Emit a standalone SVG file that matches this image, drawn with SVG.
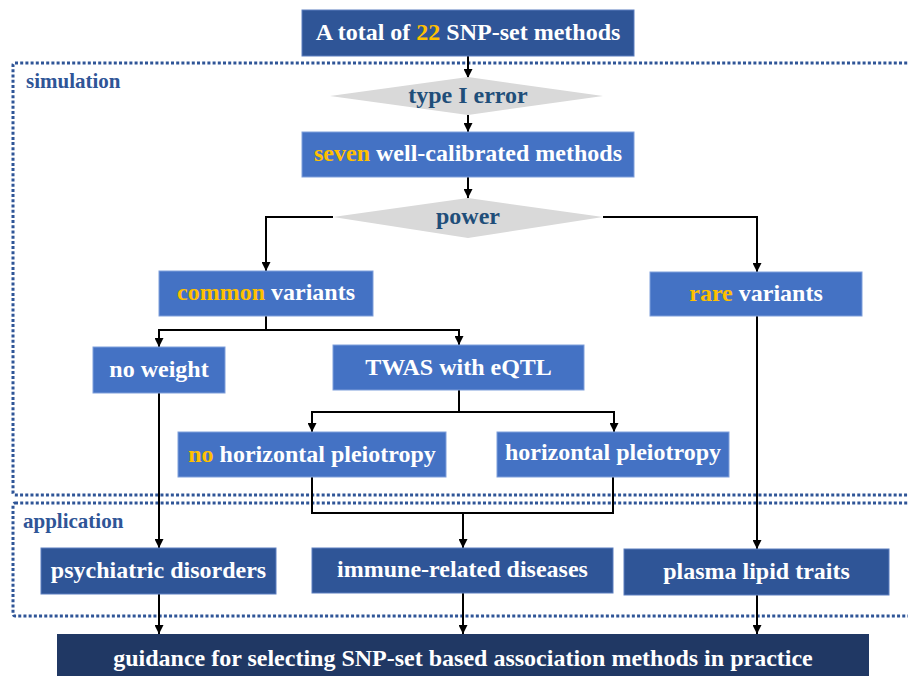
<svg xmlns="http://www.w3.org/2000/svg" width="908" height="676" viewBox="0 0 908 676">
  <defs>
    <marker id="arr" viewBox="0 0 10 10" refX="10" refY="5" markerWidth="9" markerHeight="9" markerUnits="userSpaceOnUse" orient="auto">
      <path d="M0,0 L10,5 L0,10 z" fill="#000"/>
    </marker>
    <style>
      .t{font-family:"Liberation Serif","Times New Roman",serif;font-weight:bold;font-size:24px;text-anchor:middle;fill:#fff}
      .y{fill:#FFC000}
      .dt{fill:#1F4E79}
      .lab{font-family:"Liberation Serif","Times New Roman",serif;font-weight:bold;font-size:21px;fill:#2F5597}
      .zone{fill:none;stroke:#2F5597;stroke-width:3;stroke-dasharray:3 2.2}
      .b1{fill:#4472C4;stroke:#7F9FDB;stroke-width:1}
      .b2{fill:#2F5597;stroke:#5C7FBF;stroke-width:1}
      .b3{fill:#203864}
      .dia{fill:#D9D9D9}
      .c{fill:none;stroke:#000;stroke-width:2}
      .ca{fill:none;stroke:#000;stroke-width:2;marker-end:url(#arr)}
    </style>
  </defs>
  <rect width="908" height="676" fill="#fff"/>

  <g id="zones">
    <rect class="zone" x="13" y="63" width="930" height="432" rx="2"/>
    <text class="lab" x="26" y="88">simulation</text>
    <rect class="zone" x="13" y="503" width="930" height="113" rx="2"/>
    <text class="lab" x="23" y="528">application</text>
  </g>

  <g id="connectors">
    <path class="ca" d="M468,56 V78"/>
    <path class="ca" d="M468,115 V132"/>
    <path class="ca" d="M468,177 V198"/>
    <path class="ca" d="M333,217 H266 V271"/>
    <path class="ca" d="M603,217 H757 V272"/>
    <path class="ca" d="M266,316 V330 H159 V347"/>
    <path class="ca" d="M266,330 H459 V345"/>
    <path class="ca" d="M459,390 V412 H312 V432"/>
    <path class="ca" d="M459,412 H614 V432"/>
    <path class="c" d="M312,477 V513 H613 V477"/>
    <path class="ca" d="M463,513 V548"/>
    <path class="ca" d="M159,393 V548"/>
    <path class="ca" d="M757,316 V549"/>
    <path class="ca" d="M159,594 V634"/>
    <path class="ca" d="M463,593 V634"/>
    <path class="ca" d="M757,595 V634"/>
  </g>

  <g id="n-total">
    <rect class="b2" x="302" y="10" width="332" height="46"/>
    <text class="t" x="468" y="40">A total of <tspan class="y">22</tspan> SNP-set methods</text>
  </g>
  <g id="n-type1">
    <polygon class="dia" points="330,96 468,77 603,96 468,115"/>
    <text class="t dt" x="468" y="103">type I error</text>
  </g>
  <g id="n-seven">
    <rect class="b1" x="302" y="132" width="332" height="45"/>
    <text class="t" x="468" y="161"><tspan class="y">seven</tspan> well-calibrated methods</text>
  </g>
  <g id="n-power">
    <polygon class="dia" points="333,217 468,198 603,217 468,238"/>
    <text class="t dt" x="468" y="224">power</text>
  </g>
  <g id="n-common">
    <rect class="b1" x="159" y="271" width="214" height="45"/>
    <text class="t" x="266" y="300"><tspan class="y">common</tspan> variants</text>
  </g>
  <g id="n-rare">
    <rect class="b1" x="650" y="272" width="212" height="44"/>
    <text class="t" x="756" y="301"><tspan class="y">rare</tspan> variants</text>
  </g>
  <g id="n-noweight">
    <rect class="b1" x="93" y="347" width="132" height="46"/>
    <text class="t" x="159" y="377">no weight</text>
  </g>
  <g id="n-twas">
    <rect class="b1" x="333" y="345" width="251" height="45"/>
    <text class="t" x="458.5" y="375">TWAS with eQTL</text>
  </g>
  <g id="n-nohp">
    <rect class="b1" x="178" y="432" width="268" height="45"/>
    <text class="t" x="312" y="462"><tspan class="y">no</tspan> horizontal pleiotropy</text>
  </g>
  <g id="n-hp">
    <rect class="b1" x="497" y="432" width="232" height="45"/>
    <text class="t" x="613" y="460">horizontal pleiotropy</text>
  </g>
  <g id="n-psych">
    <rect class="b2" x="41" y="548" width="235" height="46"/>
    <text class="t" x="158.5" y="578">psychiatric disorders</text>
  </g>
  <g id="n-immune">
    <rect class="b2" x="312" y="548" width="301" height="45"/>
    <text class="t" x="462.5" y="577">immune-related diseases</text>
  </g>
  <g id="n-plasma">
    <rect class="b2" x="624" y="549" width="265" height="46"/>
    <text class="t" x="756.5" y="579">plasma lipid traits</text>
  </g>
  <g id="n-guidance">
    <rect class="b3" x="57" y="634" width="812" height="50"/>
    <text class="t" x="463" y="666">guidance for selecting SNP-set based association methods in practice</text>
  </g>
</svg>
